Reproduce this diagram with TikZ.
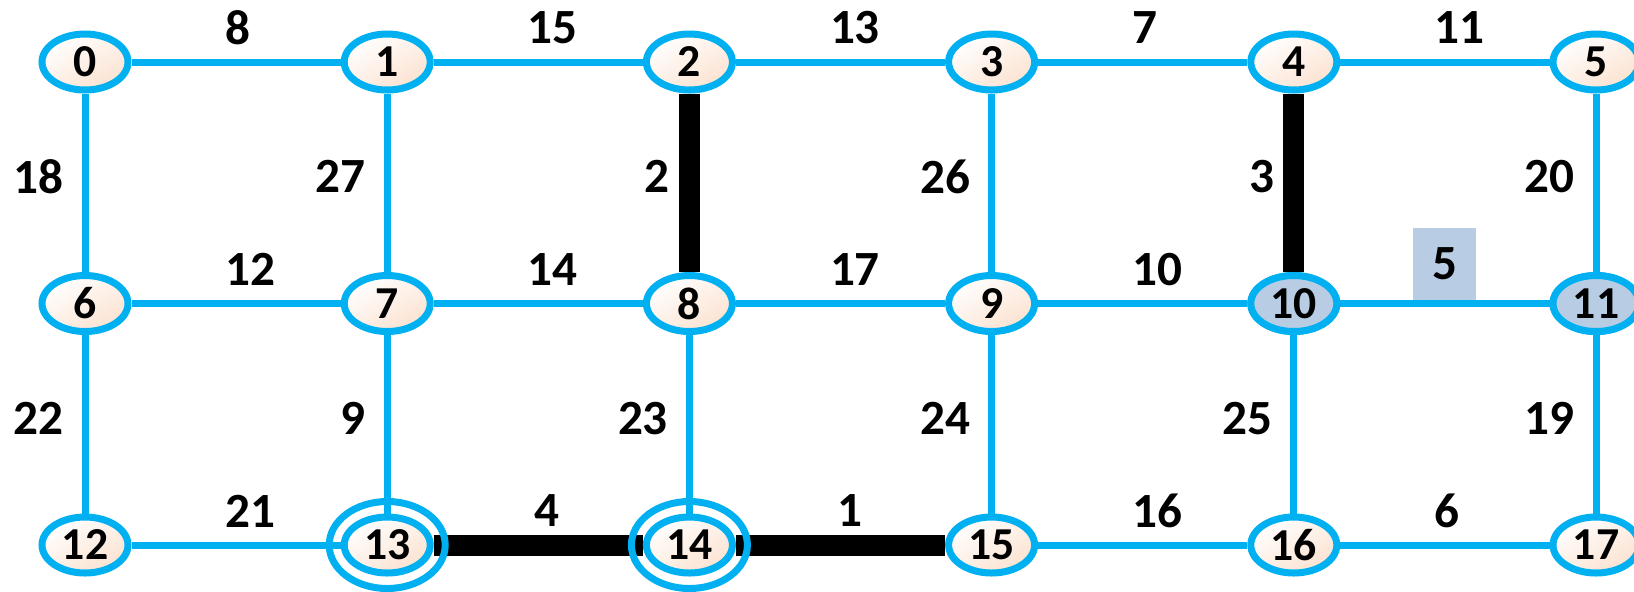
\documentclass[tikz,border=0pt]{standalone}
\usepackage{fontspec}
\setmainfont{Carlito}
\usetikzlibrary{shapes.geometric,backgrounds}

\definecolor{linkblue}{RGB}{0,176,240}
\definecolor{peach}{RGB}{251,226,208}
\definecolor{picked}{RGB}{184,204,228}

\tikzset{
vert/.style={ellipse,draw=linkblue,line width=0.07cm,minimum width=0.86cm,minimum height=0.56cm,inner sep=0pt,font=\bfseries\fontsize{13}{13}\selectfont},
open/.style={vert,top color=white,bottom color=peach,shading angle=30},
seen/.style={vert,fill=picked},
link/.style={draw=linkblue,line width=0.07cm},
tree/.style={draw=black,line width=0.21cm},
wt/.style={font=\bfseries\fontsize{14}{14}\selectfont,inner sep=0pt},
hw/.style={wt,midway,anchor=west,xshift=-0.14cm,yshift=0.34cm},
vw/.style={wt,midway,anchor=east,xshift=-0.18cm,yshift=0.06cm}
}

\begin{document}
\begin{tikzpicture}
\useasboundingbox (-0.85,0.62) rectangle (15.49,-5.29);
{
\foreach \r in {0,1,2}{
\foreach \c in {0,...,5}{
\pgfmathtruncatemacro{\k}{6*\r+\c}
\node[open] (n\k) at (3.022*\c,-2.415*\r) {\k};
}
}
\node[seen] at (n10) {10};
\node[seen] at (n11) {11};
%
\begin{pgfonlayer}{background}
\foreach \a/\b/\w in {0/1/8,1/2/15,2/3/13,3/4/7,4/5/11,6/7/12,7/8/14,8/9/17,9/10/10,12/13/21,15/16/16,16/17/6}{
\draw[link] (n\a) -- (n\b) node[hw]{\w};
}
\foreach \a/\b/\w in {0/6/18,1/7/27,3/9/26,5/11/20,6/12/22,7/13/9,8/14/23,9/15/24,10/16/25,11/17/19}{
\draw[link] (n\a) -- (n\b) node[vw]{\w};
}
\draw[link] (n10) -- (n11) node[wt,midway,anchor=south,fill=picked,minimum width=0.63cm,minimum height=0.72cm]{5};
\draw[tree] (n13) -- (n14) node[hw]{4};
\draw[tree] (n14) -- (n15) node[hw]{1};
\draw[tree] (n2) -- (n8) node[vw,xshift=0.09cm]{2};
\draw[tree] (n4) -- (n10) node[vw,xshift=0.09cm]{3};
\end{pgfonlayer}
%
\draw[link] (n13) ellipse (0.58 and 0.435);
\draw[link] (n14) ellipse (0.58 and 0.435);
}
\end{tikzpicture}
\end{document}
